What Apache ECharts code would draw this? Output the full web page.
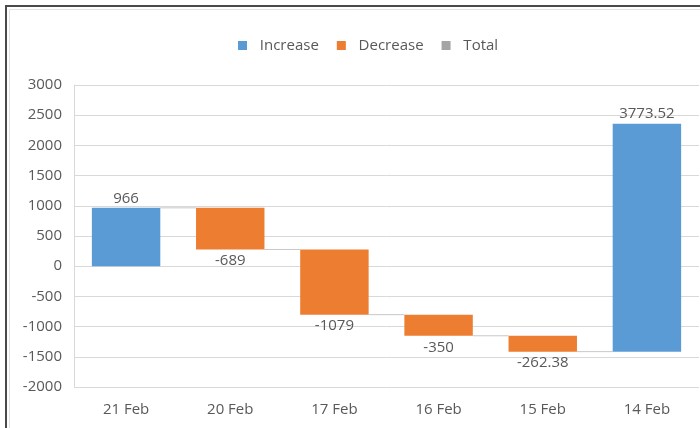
<!DOCTYPE html>
<html>
<head>
<meta charset="utf-8">
<script src="https://cdn.jsdelivr.net/npm/echarts@6/dist/echarts.min.js"></script>
<style>
html,body{margin:0;padding:0;background:#fff;}
#chart{width:700px;height:428px;}
</style>
</head>
<body>
<div id="chart"></div>
<script>
var categories = ['21 Feb', '20 Feb', '17 Feb', '16 Feb', '15 Feb', '14 Feb'];
var changes = [966, -689, -1079, -350, -262.38, 3773.52];
var yTicks = { min: -2000, max: 3000, interval: 500 };

var FONT = "'Open Sans', sans-serif";
var TXT = '#595959';
var BLUE = '#5B9BD5', ORANGE = '#ED7D31', GREY = '#A5A5A5';

var incData = [], decData = [], connData = [];
var run = 0;
changes.forEach(function (v, i) {
  var start = run, end = run + v;
  run = end;
  if (v >= 0) incData.push([i, start, end, v]);
  else decData.push([i, start, end, v]);
  if (i < changes.length - 1) connData.push([i, end]);
});

function barRender(isInc) {
  return function (params, api) {
    var i = api.value(0);
    var p1 = api.coord([i, api.value(1)]);
    var p2 = api.coord([i, api.value(2)]);
    var w = api.size([1, 0])[0] * 0.657;
    var top = Math.min(p1[1], p2[1]);
    var h = Math.abs(p1[1] - p2[1]);
    return {
      type: 'rect',
      shape: { x: p1[0] - w / 2, y: top, width: w, height: h },
      style: { fill: isInc ? BLUE : ORANGE },
      textContent: {
        style: {
          text: String(api.value(3)),
          fill: TXT,
          font: '15px ' + FONT
        }
      },
      textConfig: { position: isInc ? 'top' : 'bottom', distance: isInc ? 2 : 4 }
    };
  };
}

var chart = echarts.init(document.getElementById('chart'), null, { renderer: 'canvas' });
chart.setOption({
  animation: false,
  textStyle: { fontFamily: FONT },
  legend: {
    data: ['Increase', 'Decrease', 'Total'],
    left: 233,
    top: 33,
    icon: 'rect',
    itemWidth: 9,
    itemHeight: 9,
    itemGap: 18,
    formatter: function (n) { return '  ' + n; },
    textStyle: { color: TXT, fontSize: 15, fontFamily: FONT }
  },
  grid: { left: 74, right: 1, top: 85, bottom: 41 },
  xAxis: {
    type: 'category',
    data: categories,
    axisLine: { show: false },
    axisTick: { show: false },
    axisLabel: { color: TXT, fontSize: 15, fontFamily: FONT, margin: 15 }
  },
  yAxis: {
    type: 'value',
    min: yTicks.min,
    max: yTicks.max,
    interval: yTicks.interval,
    axisLine: { show: true, lineStyle: { color: '#D9D9D9' } },
    axisTick: { show: false },
    splitLine: { lineStyle: { color: '#D9D9D9' } },
    axisLabel: { color: TXT, fontSize: 15, fontFamily: FONT, margin: 12, formatter: function (v) { return String(v); } }
  },
  series: [
    {
      name: 'Connector',
      type: 'custom',
      silent: true,
      data: connData,
      encode: { x: 0, y: 1 },
      z: 1,
      renderItem: function (params, api) {
        var i = api.value(0);
        var w = api.size([1, 0])[0] * 0.657;
        var a = api.coord([i, api.value(1)]);
        var b = api.coord([i + 1, api.value(1)]);
        return {
          type: 'line',
          shape: { x1: a[0] + w / 2, y1: a[1], x2: b[0] - w / 2, y2: b[1] },
          style: { stroke: '#C8C8C8', lineWidth: 1 }
        };
      }
    },
    {
      name: 'Increase',
      type: 'custom',
      itemStyle: { color: BLUE },
      data: incData,
      encode: { x: 0, y: [1, 2] },
      z: 2,
      renderItem: barRender(true)
    },
    {
      name: 'Decrease',
      type: 'custom',
      itemStyle: { color: ORANGE },
      data: decData,
      encode: { x: 0, y: [1, 2] },
      z: 2,
      renderItem: barRender(false)
    },
    {
      name: 'Total',
      type: 'custom',
      itemStyle: { color: GREY },
      data: [],
      renderItem: function () { return null; }
    }
  ],
  graphic: [
    { type: 'line', shape: { x1: 9, y1: 9.5, x2: 700, y2: 9.5 }, style: { stroke: '#E3E3E3', lineWidth: 1 }, silent: true },
    { type: 'line', shape: { x1: 9.5, y1: 9, x2: 9.5, y2: 428 }, style: { stroke: '#E3E3E3', lineWidth: 1 }, silent: true },
    { type: 'line', shape: { x1: 5, y1: 6, x2: 700, y2: 6 }, style: { stroke: '#4A4A4A', lineWidth: 2 }, silent: true },
    { type: 'line', shape: { x1: 6, y1: 5, x2: 6, y2: 428 }, style: { stroke: '#4A4A4A', lineWidth: 2 }, silent: true }
  ]
});
</script>
</body>
</html>
